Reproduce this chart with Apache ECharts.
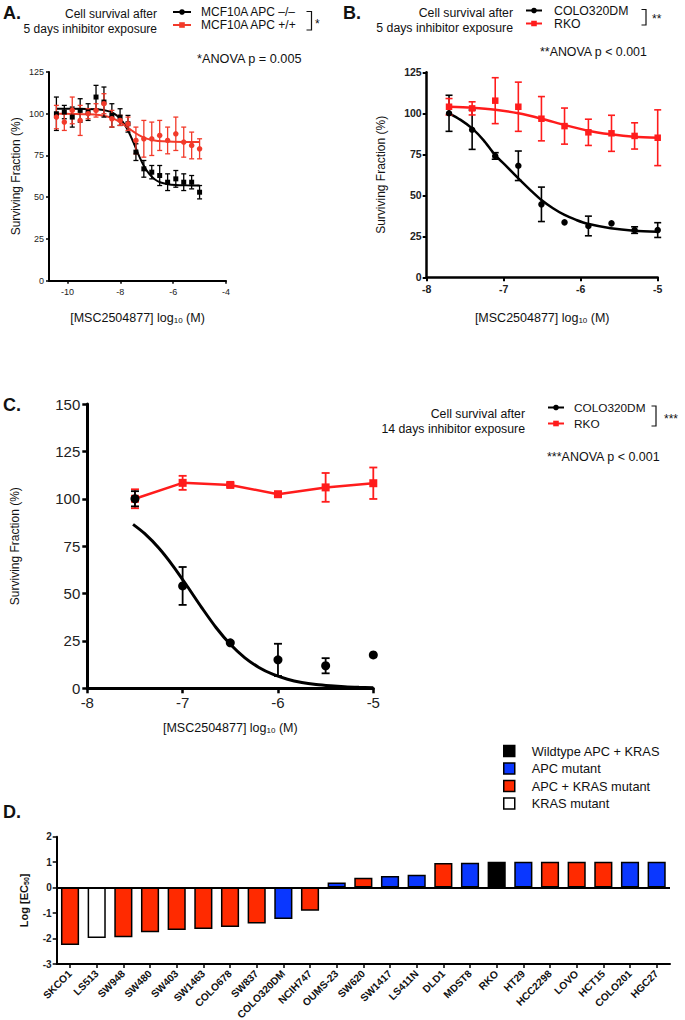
<!DOCTYPE html>
<html><head><meta charset="utf-8">
<script src="https://cdn.jsdelivr.net/npm/echarts@6/dist/echarts.min.js"></script>
<style>html,body{margin:0;padding:0;background:#fff}#c{width:685px;height:1020px}</style>
</head><body><div id="c"></div>
<script>
// ---------- Panel A data ----------
const aX = [-10.42, -10.12, -9.82, -9.52, -9.22, -8.92, -8.62, -8.32, -8.01, -7.71, -7.41, -7.11, -6.81, -6.51, -6.21, -5.90, -5.60, -5.30, -5.00];
const aNull = [100, 101, 98, 102, 101, 110, 107, 99, 98, 94, 77, 67, 65, 63, 59, 61, 59, 59, 53];
const aNullErr = [10, 4, 6, 7, 5, 7, 9, 7, 5, 5, 5, 5, 4, 6, 5, 5, 5, 4, 4];
const aWt = [98, 95, 102, 96, 100, 102, 106, 97, 96, 94, 84, 85, 85, 87, 84, 88, 83, 81, 79];
const aWtErr = [7, 5, 8, 9, 3, 4, 6, 5, 3, 4, 8, 11, 10, 9, 8, 10, 9, 8, 6];
const aNullFitX = [-10.42, -9.8, -9.2, -8.8, -8.5, -8.3, -8.1, -7.9, -7.7, -7.5, -7.3, -7.1, -6.9, -6.7, -6.5, -6.2, -5.9, -5.5, -5.0];
const aNullFit = [103, 103, 102.9, 102.5, 101.7, 100.6, 98.5, 95.0, 89.7, 82.7, 75.1, 68.5, 63.8, 60.8, 59.0, 57.8, 57.3, 57.1, 57.0];
const aWtFitX = [-10.42, -9.8, -9.2, -8.8, -8.5, -8.2, -7.9, -7.6, -7.3, -7.0, -6.7, -6.4, -6.0, -5.5, -5.0];
const aWtFit = [100, 99.9, 99.7, 99.2, 98.3, 96.6, 93.8, 90.3, 87.2, 85.1, 84.0, 83.5, 83.15, 83.05, 83.0];
const aXTicks = [-10, -8, -6, -4];

// ---------- Panel B data ----------
const bX = [-7.71, -7.41, -7.11, -6.81, -6.51, -6.21, -5.90, -5.60, -5.30, -5.00];
const bColo = [100, 90, 74, 68, 44.5, 33.5, 31.3, 32.9, 28.8, 28.8];
const bColoErr = [11, 12, 2, 9, 10.5, 0, 6, 0, 2, 4.5];
const bRko = [104, 103, 107.7, 104, 96.7, 92.2, 88.4, 87.8, 86.2, 85.1];
const bRkoErr = [5, 4, 14, 15, 13.5, 11, 8, 11, 8, 17];
const bColoFitX = [-7.71, -7.56, -7.41, -7.26, -7.12, -6.96, -6.81, -6.66, -6.51, -6.36, -6.21, -6.06, -5.91, -5.61, -5.31, -5.0];
const bColoFit = [100, 96, 90.8, 83.5, 75, 67.5, 60.3, 53.5, 47.1, 42.1, 38, 35, 32.6, 29.9, 28.4, 27.8];
const bRkoFitX = [-7.71, -7.41, -7.11, -6.81, -6.51, -6.21, -5.91, -5.61, -5.31, -5.0];
const bRkoFit = [104, 103.4, 102.2, 100, 96.7, 92.9, 89.4, 87.2, 85.7, 85.1];

// ---------- Panel C data ----------
const cX = [-7.5, -7.0, -6.5, -6.0, -5.5, -5.0];
const cColo = [100, 54, 24, 15, 11.9, 17.6];
const cColoErr = [4, 10, 0, 8.5, 4, 0];
const cRko = [100, 108.4, 107.3, 102.4, 106, 108.2];
const cRkoErr = [5, 3.7, 1, 1, 7.6, 8.3];
const cColoFitX = [-7.52, -7.4, -7.25, -7.1, -6.95, -6.8, -6.65, -6.5, -6.35, -6.2, -6.05, -5.9, -5.75, -5.6, -5.45, -5.3, -5.15, -5.0];
const cColoFit = [86.5, 81.7, 74.0, 64.5, 53.7, 42.6, 32.1, 23.2, 16.2, 11.0, 7.3, 4.8, 3.1, 2.0, 1.3, 0.8, 0.5, 0.3];

// ---------- Panel D data ----------
const dCells = ['SKCO1','LS513','SW948','SW480','SW403','SW1463','COLO678','SW837','COLO320DM','NCIH747','OUMS-23','SW620','SW1417','LS411N','DLD1','MDST8','RKO','HT29','HCC2298','LOVO','HCT15','COLO201','HGC27'];
const dLogEC50 = [-2.25, -1.98, -1.95, -1.75, -1.66, -1.63, -1.55, -1.41, -1.23, -0.91, 0.2, 0.39, 0.46, 0.51, 0.97, 0.98, 1.02, 1.02, 1.02, 1.02, 1.02, 1.02, 1.02];
const dGroup = ['APC + KRAS mutant','KRAS mutant','APC + KRAS mutant','APC + KRAS mutant','APC + KRAS mutant','APC + KRAS mutant','APC + KRAS mutant','APC + KRAS mutant','APC mutant','APC + KRAS mutant','APC mutant','APC + KRAS mutant','APC mutant','APC mutant','APC + KRAS mutant','APC mutant','Wildtype APC + KRAS','APC mutant','APC + KRAS mutant','APC + KRAS mutant','APC + KRAS mutant','APC mutant','APC mutant'];
const dGroups = ['Wildtype APC + KRAS','APC mutant','APC + KRAS mutant','KRAS mutant'];
const dGroupColors = ['#000000','#0a37ff','#ff2a00','#ffffff'];

const FONT = "'Liberation Sans', Arial, Helvetica, sans-serif";
const INK = '#111';
const RED_A = '#f23a2a', RED = '#ff1c1c';

const zip = (xs, ys) => xs.map((x, i) => [x, ys[i]]);

function errSeries(idx, xs, ys, es, color, cap, lw, z) {
  return {
    type: 'custom', name: 'err' + idx + color, xAxisIndex: idx, yAxisIndex: idx, silent: true, z: z,
    dimensions: ['x', 'y', 'e'], encode: { x: 0, y: 1 },
    data: xs.map((x, i) => [x, ys[i], es[i]]),
    renderItem: function (params, api) {
      const x = api.value(0), y = api.value(1), e = api.value(2);
      if (!e) return null;
      const p1 = api.coord([x, y + e]), p2 = api.coord([x, y - e]);
      const st = { stroke: color, lineWidth: lw };
      return { type: 'group', children: [
        { type: 'line', shape: { x1: p1[0], y1: p1[1], x2: p2[0], y2: p2[1] }, style: st },
        { type: 'line', shape: { x1: p1[0] - cap, y1: p1[1], x2: p1[0] + cap, y2: p1[1] }, style: st },
        { type: 'line', shape: { x1: p2[0] - cap, y1: p2[1], x2: p2[0] + cap, y2: p2[1] }, style: st }
      ]};
    }
  };
}
function fitSeries(idx, name, xs, ys, color, lw, sym) {
  return { type: 'line', name: name, xAxisIndex: idx, yAxisIndex: idx, data: zip(xs, ys),
    smooth: 0.3, showSymbol: false, symbol: sym, silent: true, z: 2,
    lineStyle: { color: color, width: lw }, itemStyle: { color: color } };
}
function ptSeries(idx, name, xs, ys, color, sym, size, z) {
  return { type: 'scatter', name: name, xAxisIndex: idx, yAxisIndex: idx, data: zip(xs, ys),
    symbol: sym, symbolSize: size, itemStyle: { color: color, opacity: 1 }, silent: true, z: z };
}

const subName = { fontSize: 8, fontFamily: FONT, color: INK, padding: [5, 0, 0, 0] };
function xName(gap, size) {
  return { name: '[MSC2504877] log{sub|10} (M)', nameLocation: 'middle', nameGap: gap,
    nameTextStyle: { fontSize: size, fontFamily: FONT, color: INK, rich: { sub: subName } } };
}
function yName(gap, size) {
  return { name: 'Surviving Fraction (%)', nameLocation: 'middle', nameGap: gap,
    nameTextStyle: { fontSize: size, fontFamily: FONT, color: INK } };
}
function axisBase(lw, tickLen, labelSize, bold, margin) {
  return {
    axisLine: { show: true, onZero: false, lineStyle: { color: '#000', width: lw } },
    axisTick: { show: true, length: tickLen, lineStyle: { color: '#000', width: Math.max(1, lw - 0.5) } },
    axisLabel: { fontSize: labelSize, fontWeight: bold ? 'bold' : 'normal', fontFamily: FONT, color: '#222', margin: margin },
    splitLine: { show: false }
  };
}
function merge(a, b) { return Object.assign({}, a, b); }

const xAxes = [
  merge(axisBase(2, 3, 9, false, 7), merge(xName(31, 12.5), { type: 'value', gridIndex: 0, min: -10.7, max: -4 })),
  merge(axisBase(2.5, 4, 10.5, true, 6), merge(xName(34, 12.5), { type: 'value', gridIndex: 1, min: -8, max: -5, interval: 1 })),
  merge(axisBase(3, 5, 15, false, 7), merge(xName(33, 12.5), { type: 'value', gridIndex: 2, min: -8, max: -5, interval: 1 })),
  merge(axisBase(2, 4, 10.3, true, 8), { type: 'category', gridIndex: 3, data: dCells })
];
xAxes[0].axisTick.customValues = aXTicks;
xAxes[0].axisLabel.customValues = aXTicks;
xAxes[3].axisTick.alignWithLabel = true;
xAxes[3].axisLabel.rotate = 45;
xAxes[3].axisLabel.interval = 0;
xAxes[3].axisLabel.color = INK;

const yAxes = [
  merge(axisBase(2, 3, 9, false, 5), merge(yName(27, 12), { type: 'value', gridIndex: 0, min: 0, max: 125, interval: 25 })),
  merge(axisBase(2.5, 4, 10.5, true, 5), merge(yName(40, 12), { type: 'value', gridIndex: 1, min: 0, max: 125, interval: 25 })),
  merge(axisBase(3, 5, 15, false, 7), merge(yName(66, 12), { type: 'value', gridIndex: 2, min: 0, max: 150, interval: 25 })),
  merge(axisBase(2, 4, 10, true, 5), { type: 'value', gridIndex: 3, min: -3, max: 2, interval: 1,
    name: 'Log [EC{sub|50}]', nameLocation: 'middle', nameGap: 27,
    nameTextStyle: { fontSize: 11, fontWeight: 'bold', fontFamily: FONT, color: INK,
      rich: { sub: { fontSize: 7, fontWeight: 'bold', fontFamily: FONT, color: INK, padding: [4, 0, 0, 0] } } } })
];

const series = [
  // Panel A
  fitSeries(0, 'MCF10A APC –/–', aNullFitX, aNullFit, '#000', 2, 'circle'),
  fitSeries(0, 'MCF10A APC +/+', aWtFitX, aWtFit, RED_A, 2, 'rect'),
  errSeries(0, aX, aNull, aNullErr, '#000', 2.5, 1.3, 3),
  errSeries(0, aX, aWt, aWtErr, RED_A, 2.5, 1.3, 3),
  ptSeries(0, 'A null pts', aX, aNull, '#000', 'rect', 5, 4),
  ptSeries(0, 'A wt pts', aX, aWt, RED_A, 'circle', 5.5, 4),
  // Panel B
  fitSeries(1, 'COLO320DM', bColoFitX, bColoFit, '#000', 2.5, 'circle'),
  fitSeries(1, 'RKO', bRkoFitX, bRkoFit, RED, 2.5, 'rect'),
  errSeries(1, bX, bColo, bColoErr, '#000', 3.5, 1.6, 3),
  errSeries(1, bX, bRko, bRkoErr, RED, 3.5, 1.6, 3),
  ptSeries(1, 'B colo pts', bX, bColo, '#000', 'circle', 6.5, 4),
  ptSeries(1, 'B rko pts', bX, bRko, RED, 'rect', 6.5, 4),
  // Panel C
  { type: 'line', name: 'RKO C', xAxisIndex: 2, yAxisIndex: 2, data: zip(cX, cRko), symbol: 'rect', symbolSize: 8,
    lineStyle: { color: RED, width: 2.5 }, itemStyle: { color: RED }, silent: true, z: 2 },
  errSeries(2, cX, cRko, cRkoErr, RED, 4, 1.8, 3),
  fitSeries(2, 'COLO320DM C', cColoFitX, cColoFit, '#000', 3, 'circle'),
  errSeries(2, cX, cColo, cColoErr, '#000', 4, 1.8, 5),
  ptSeries(2, 'C colo pts', cX, cColo, '#000', 'circle', 9, 6)
];
// Panel D bars
dGroups.forEach((g, gi) => {
  const s = {
    type: 'bar', name: g, xAxisIndex: 3, yAxisIndex: 3, barWidth: '68%', barGap: '-100%', silent: true,
    data: dCells.map((c, i) => dGroup[i] === g ? dLogEC50[i] : '-'),
    itemStyle: { color: dGroupColors[gi], borderColor: '#000', borderWidth: 1.5 }
  };
  if (gi === 0) {
    s.markLine = { silent: true, symbol: 'none', label: { show: false },
      lineStyle: { color: '#000', width: 2, type: 'solid' }, data: [{ yAxis: 0 }] };
  }
  series.push(s);
});

const legTxt = { fontSize: 12, fontFamily: FONT, color: INK, padding: [0, 0, 0, 5] };
const legends = [
  { data: ['MCF10A APC –/–', 'MCF10A APC +/+'], left: 172, top: 6, orient: 'vertical', itemWidth: 18, itemHeight: 7, itemGap: 1, padding: 0, selectedMode: false, textStyle: legTxt },
  { data: ['COLO320DM', 'RKO'], left: 525, top: 4.5, orient: 'vertical', itemWidth: 16, itemHeight: 7, itemGap: 1, padding: 0, selectedMode: false, textStyle: merge(legTxt, { fontSize: 12.3, padding: [0, 0, 0, 7] }) },
  { data: ['COLO320DM', 'RKO'], left: 547, top: 401.5, orient: 'vertical', itemWidth: 16, itemHeight: 7, itemGap: 4, padding: 0, selectedMode: false, textStyle: merge(legTxt, { fontSize: 11.8, padding: [0, 0, 0, 5] }) },
  { data: dGroups, left: 503, top: 744.5, orient: 'vertical', itemWidth: 11, itemHeight: 11, itemGap: 4.5, padding: 0, selectedMode: false, icon: 'rect',
    itemStyle: { borderColor: '#000', borderWidth: 1.5 }, textStyle: { fontSize: 12.8, fontFamily: FONT, color: INK, padding: [0, 0, 0, 12] } }
];

function txt(t, x, y, size, align, bold) {
  return { type: 'text', silent: true, x: x, y: y,
    style: { text: t, fontSize: size, fontWeight: bold ? 'bold' : 'normal', fontFamily: FONT, fill: INK, align: align || 'left', verticalAlign: 'middle' } };
}
function bracket(x1, x2, y1, y2) {
  return { type: 'polyline', silent: true, shape: { points: [[x1, y1], [x2, y1], [x2, y2], [x1, y2]] },
    style: { stroke: INK, lineWidth: 1.2, fill: 'none' } };
}
const graphics = [
  txt('A.', 3, 13, 18, 'left', true),
  txt('B.', 343, 13, 18, 'left', true),
  txt('C.', 3, 405, 18, 'left', true),
  txt('D.', 3, 812, 18, 'left', true),
  txt('Cell survival after', 157, 14, 12, 'right'),
  txt('5 days inhibitor exposure', 157, 29, 12, 'right'),
  txt('Cell survival after', 513, 13, 12.3, 'right'),
  txt('5 days inhibitor exposure', 513, 28, 12.3, 'right'),
  txt('Cell survival after', 525, 414, 12.3, 'right'),
  txt('14 days inhibitor exposure', 525, 429, 12.3, 'right'),
  txt('*ANOVA p = 0.005', 197, 59, 12.7),
  txt('**ANOVA p < 0.001', 540, 52, 12.4),
  txt('***ANOVA p < 0.001', 547, 457, 12.5),
  bracket(306.5, 311.5, 11.5, 30),
  bracket(641.5, 646, 9.5, 25),
  bracket(651.5, 656, 406, 426),
  txt('*', 315, 24, 12),
  txt('**', 652, 19, 12),
  txt('***', 664, 419, 12)
];

const chart = echarts.init(document.getElementById('c'), null, { renderer: 'svg' });
chart.setOption({
  animation: false,
  backgroundColor: '#fff',
  textStyle: { fontFamily: FONT },
  grid: [
    { left: 49, top: 72, width: 177, height: 208.7, outerBoundsMode: 'none', containLabel: false },
    { left: 426.7, top: 72.3, width: 231, height: 205, outerBoundsMode: 'none', containLabel: false },
    { left: 87.3, top: 404, width: 286, height: 284.3, outerBoundsMode: 'none', containLabel: false },
    { left: 56.7, top: 836.7, width: 613.3, height: 127.3, outerBoundsMode: 'none', containLabel: false }
  ],
  xAxis: xAxes,
  yAxis: yAxes,
  legend: legends,
  series: series,
  graphic: graphics
});
</script>
</body></html>
